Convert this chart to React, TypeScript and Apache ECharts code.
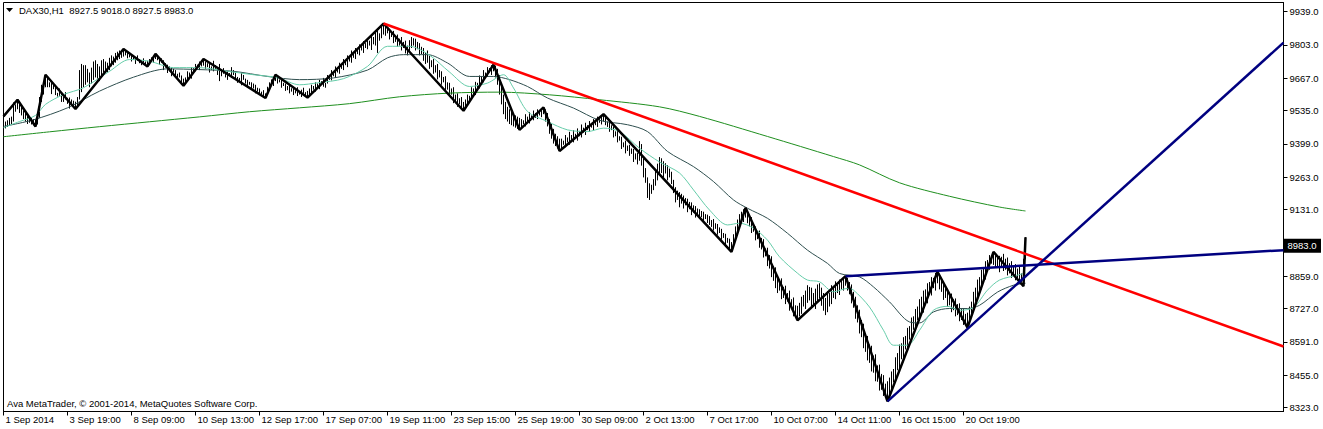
import React, { useEffect, useRef } from "react";
import * as echarts from "echarts";

// ---------- data ----------
const symbolName = "DAX30,H1";
const lastBarOHLC = [8927.5, 9018.0, 8927.5, 8983.0];
const copyrightText = "Ava MetaTrader, \u00A9 2001-2014, MetaQuotes Software Corp.";

const timeLabels = [
  "1 Sep 2014", "3 Sep 19:00", "8 Sep 09:00", "10 Sep 13:00", "12 Sep 17:00",
  "17 Sep 07:00", "19 Sep 11:00", "23 Sep 15:00", "25 Sep 19:00", "30 Sep 09:00",
  "2 Oct 13:00", "7 Oct 17:00", "10 Oct 07:00", "14 Oct 11:00", "16 Oct 15:00",
  "20 Oct 19:00",
];
const barsPerLabel = 32;
const totalSlots = 641; // bars plus empty space to the right edge

const priceTicks = [8323, 8455, 8591, 8727, 8859, 9131, 9263, 9399, 9535, 9667, 9803, 9939];
const priceMin = 8306.6;
const priceMax = 9975.8;

// hourly bars, low / high
const barLow = [
  9470, 9462, 9468, 9475, 9480, 9490, 9530, 9540,
  9525, 9515, 9500, 9490, 9480, 9485, 9478, 9475, 9470,
  9478, 9505, 9570, 9600, 9630,
  9630, 9630, 9602, 9622, 9598, 9592, 9595, 9570, 9570, 9580, 9562, 9543, 9560, 9545, 9541,
  9550, 9580, 9610, 9630, 9640, 9650, 9630, 9645, 9660, 9670, 9665, 9655, 9670, 9690, 9700, 9690, 9700, 9715, 9720, 9730, 9740, 9745, 9750, 9755,
  9760, 9748, 9752, 9735, 9742, 9725, 9738, 9728, 9720, 9730, 9722, 9715,
  9725, 9735, 9730, 9745,
  9740, 9722, 9730, 9700, 9710, 9688, 9695, 9675, 9690, 9668, 9660, 9670, 9650, 9636,
  9650, 9660, 9675, 9665, 9690, 9695, 9710, 9700, 9715, 9718,
  9705, 9712, 9690, 9700, 9695, 9705, 9680, 9655, 9675, 9685, 9670, 9660, 9675, 9668, 9680, 9662, 9648, 9655, 9638, 9660, 9645, 9630, 9640, 9620, 9625, 9605, 9612, 9598, 9600, 9590, 9586,
  9600, 9618, 9640, 9635, 9655,
  9645, 9650, 9628, 9635, 9615, 9618, 9605, 9612, 9598, 9605, 9594, 9600, 9590, 9602, 9595, 9588,
  9598, 9605, 9620, 9612, 9630, 9622, 9640, 9632, 9628, 9645, 9660, 9658, 9675, 9668, 9690, 9685, 9705, 9700, 9720, 9712, 9735, 9730, 9750, 9745, 9765, 9760, 9780, 9770, 9790, 9785, 9800, 9782, 9805, 9800, 9770, 9820, 9830, 9845,
  9840, 9850, 9825, 9835, 9810, 9815, 9795, 9800, 9780, 9790, 9768, 9760, 9775, 9790, 9800, 9780, 9785, 9760, 9765, 9738, 9725, 9730, 9705, 9712, 9685, 9690, 9662, 9670, 9640, 9650, 9612, 9620, 9590, 9600, 9565, 9570, 9550, 9560, 9540, 9534,
  9545, 9560, 9570, 9580, 9600, 9598, 9620, 9625, 9648, 9650, 9668, 9672, 9690, 9680, 9695,
  9670, 9640, 9600, 9560, 9520, 9500, 9490, 9480, 9475, 9470, 9465, 9460, 9456,
  9465, 9480, 9470, 9490, 9482, 9498, 9495, 9505, 9500, 9515, 9508, 9520,
  9490, 9470, 9440, 9420, 9400, 9390, 9380, 9370,
  9378, 9395, 9385, 9405, 9395, 9415, 9405, 9420, 9412, 9430, 9425, 9445, 9435, 9455, 9448, 9465, 9455, 9475, 9468, 9485, 9478, 9490,
  9475, 9468, 9448, 9455, 9425, 9430, 9405, 9412, 9378, 9385, 9360, 9370, 9350, 9358, 9325, 9335, 9315, 9330, 9310, 9262,
  9240, 9178, 9170, 9195, 9210, 9228, 9250, 9272, 9280, 9262, 9278, 9250, 9262, 9235, 9198, 9160, 9170, 9140, 9155, 9135,
  9148, 9120, 9132, 9108, 9118, 9098, 9110, 9092, 9100, 9082, 9092, 9076, 9068, 9060, 9045, 9052, 9028, 9035, 9008, 9015,
  8988, 8995, 8968, 8958,
  8975, 9000, 9032, 9058, 9085, 9080, 9098,
  9075, 9062, 9035, 9040, 9005, 9010, 8975, 8968, 8935, 8940, 8900, 8890, 8855, 8840, 8810, 8790, 8800, 8765, 8770, 8745, 8755, 8718, 8725, 8695, 8700, 8679,
  8695, 8705, 8735, 8725, 8750, 8760, 8735, 8742, 8725, 8752, 8768, 8738, 8718, 8700, 8712, 8735, 8745, 8770, 8765, 8790, 8782, 8805, 8800, 8820,
  8800, 8785, 8748, 8730, 8685, 8670, 8625, 8610, 8565, 8550, 8515, 8505, 8470, 8465, 8430, 8428, 8392, 8395, 8370, 8365, 8348,
  8372, 8385, 8425, 8432, 8475, 8480, 8520, 8525, 8560, 8565, 8600, 8602, 8640, 8642, 8680, 8682, 8715, 8710, 8750, 8748, 8785, 8780, 8810, 8800, 8830,
  8805, 8795, 8762, 8770, 8735, 8740, 8712, 8720, 8695, 8700, 8675, 8680, 8660, 8665, 8649,
  8668, 8700, 8712, 8755, 8765, 8800, 8805, 8840, 8845, 8880, 8885, 8910, 8905,
  8895, 8900, 8875, 8895, 8880, 8885, 8862, 8870, 8852, 8862, 8842, 8850, 8828, 8835, 8818, 8927.5,
];
const barHigh = [
  9515, 9490, 9495, 9505, 9510, 9568, 9560, 9579,
  9565, 9550, 9535, 9525, 9515, 9510, 9505, 9500, 9498,
  9520, 9590, 9640, 9655, 9681,
  9670, 9650, 9647, 9647, 9633, 9607, 9625, 9610, 9590, 9610, 9587, 9588, 9580, 9575, 9571,
  9590, 9700, 9725, 9720, 9720, 9705, 9690, 9710, 9735, 9740, 9725, 9715, 9740, 9745, 9735, 9730, 9750, 9760, 9755, 9770, 9775, 9780, 9778, 9786,
  9782, 9770, 9768, 9762, 9755, 9752, 9760, 9745, 9740, 9748, 9735, 9738,
  9745, 9752, 9758, 9766,
  9760, 9750, 9748, 9740, 9728, 9722, 9715, 9712, 9705, 9700, 9685, 9690, 9678, 9665,
  9670, 9695, 9690, 9712, 9708, 9725, 9722, 9735, 9730, 9745,
  9735, 9728, 9725, 9715, 9738, 9720, 9712, 9725, 9700, 9708, 9690, 9695, 9688, 9712, 9700, 9690, 9672, 9668, 9690, 9680, 9665, 9660, 9652, 9650, 9645, 9640, 9628, 9625, 9612, 9618, 9605,
  9632, 9650, 9662, 9670, 9681,
  9672, 9662, 9660, 9648, 9645, 9635, 9640, 9626, 9625, 9618, 9630, 9612, 9620, 9628, 9610, 9615,
  9625, 9640, 9635, 9650, 9645, 9660, 9655, 9668, 9648, 9680, 9675, 9700, 9695, 9715, 9712, 9730, 9725, 9745, 9740, 9760, 9755, 9780, 9770, 9790, 9785, 9805, 9800, 9818, 9810, 9830, 9820, 9840, 9835, 9860, 9865, 9850, 9880, 9890,
  9885, 9870, 9868, 9855, 9860, 9840, 9845, 9828, 9835, 9815, 9820, 9800, 9822, 9835, 9830, 9828, 9815, 9810, 9795, 9790, 9770, 9780, 9758, 9740, 9745, 9720, 9725, 9700, 9695, 9672, 9675, 9650, 9648, 9625, 9630, 9600, 9605, 9585, 9590, 9570,
  9580, 9600, 9595, 9630, 9625, 9652, 9648, 9678, 9675, 9700, 9690, 9712, 9708, 9720, 9722,
  9718, 9705, 9680, 9640, 9600, 9570, 9550, 9540, 9530, 9520, 9515, 9510, 9505,
  9500, 9495, 9520, 9510, 9528, 9515, 9535, 9525, 9540, 9532, 9545, 9548,
  9540, 9525, 9500, 9480, 9460, 9440, 9430, 9420,
  9420, 9412, 9435, 9425, 9448, 9435, 9455, 9440, 9462, 9452, 9478, 9465, 9485, 9475, 9492, 9482, 9500, 9495, 9510, 9500, 9515, 9520,
  9512, 9490, 9500, 9475, 9470, 9450, 9452, 9430, 9428, 9405, 9412, 9392, 9395, 9380, 9378, 9360, 9362, 9410, 9398, 9340,
  9300, 9262, 9238, 9232, 9255, 9290, 9318, 9345, 9340, 9328, 9320, 9312, 9298, 9285, 9252, 9222, 9208, 9202, 9195, 9188,
  9178, 9175, 9162, 9160, 9148, 9145, 9135, 9132, 9125, 9122, 9112, 9110, 9104, 9088, 9092, 9075, 9072, 9058, 9052, 9035,
  9032, 9015, 9012, 8998,
  9030, 9062, 9090, 9112, 9122, 9132, 9138,
  9130, 9105, 9100, 9070, 9062, 9040, 9045, 9015, 9010, 8972, 8975, 8945, 8940, 8900, 8895, 8860, 8845, 8850, 8815, 8820, 8790, 8800, 8765, 8772, 8740, 8738,
  8750, 8775, 8782, 8800, 8822, 8815, 8812, 8790, 8808, 8825, 8830, 8812, 8790, 8770, 8798, 8790, 8822, 8812, 8838, 8830, 8845, 8840, 8855, 8859,
  8852, 8835, 8825, 8795, 8775, 8740, 8722, 8680, 8665, 8625, 8615, 8580, 8575, 8535, 8540, 8495, 8498, 8460, 8455, 8420, 8430,
  8445, 8470, 8480, 8528, 8545, 8580, 8585, 8610, 8615, 8648, 8655, 8690, 8695, 8725, 8735, 8765, 8775, 8800, 8805, 8830, 8835, 8855, 8852, 8872, 8877,
  8868, 8840, 8835, 8810, 8808, 8785, 8788, 8765, 8768, 8745, 8748, 8725, 8728, 8705, 8710,
  8735, 8755, 8795, 8812, 8845, 8855, 8885, 8895, 8920, 8925, 8945, 8940, 8958,
  8952, 8935, 8942, 8938, 8950, 8930, 8935, 8912, 8920, 8900, 8908, 8890, 8898, 8870, 8930, 9018,
];

// zigzag pivots [bar, price]
const zigzag = [
  [0, 9511], [7, 9579], [16, 9470], [21, 9681], [36, 9541], [60, 9786], [72, 9715],
  [76, 9766], [90, 9636], [100, 9745], [131, 9586], [136, 9681], [152, 9588], [190, 9890],
  [230, 9534], [245, 9722], [258, 9456], [270, 9548], [278, 9370], [300, 9520], [364, 8958],
  [371, 9138], [397, 8679], [421, 8859], [442, 8348], [467, 8877], [482, 8649], [495, 8958],
  [510, 8818], [511, 9018],
];

// moving averages, [bar, price]
const maFast = [
  [0, 9465], [8, 9490], [16, 9515], [21, 9560], [30, 9600], [40, 9628], [53, 9695], [63, 9743],
  [73, 9736], [85, 9710], [98, 9710], [112, 9695], [125, 9681], [137, 9669], [148, 9640],
  [157, 9648], [170, 9665], [182, 9715], [192, 9797], [203, 9797], [213, 9761], [223, 9692],
  [233, 9633], [242, 9647], [250, 9681], [255, 9627], [262, 9531], [272, 9490], [282, 9456],
  [292, 9449], [300, 9463], [308, 9449], [318, 9381], [328, 9325], [338, 9280], [345, 9211],
  [353, 9129], [362, 9068], [368, 9075], [375, 9055], [382, 9006], [388, 8938], [397, 8871],
  [402, 8843], [408, 8836], [415, 8795], [422, 8809], [425, 8802], [433, 8733], [440, 8638],
  [445, 8577], [452, 8577], [458, 8638], [465, 8720], [472, 8736], [478, 8720], [485, 8731],
  [492, 8802], [498, 8843], [507, 8863], [511, 8872],
];
const maMid = [
  [0, 9470], [15, 9497], [32, 9546], [48, 9614], [65, 9671], [82, 9705], [98, 9702], [115, 9695],
  [132, 9674], [148, 9661], [165, 9668], [182, 9700], [192, 9750], [200, 9763], [212, 9763],
  [222, 9729], [233, 9674], [245, 9674], [253, 9661], [262, 9633], [272, 9586], [285, 9545],
  [298, 9495], [312, 9477], [322, 9449], [332, 9368], [345, 9306], [355, 9245], [365, 9170],
  [372, 9136], [382, 9095], [392, 9034], [402, 8965], [412, 8911], [418, 8870], [428, 8856],
  [435, 8815], [443, 8754], [453, 8672], [458, 8668], [465, 8713], [473, 8727], [482, 8727],
  [488, 8740], [497, 8794], [505, 8822], [511, 8830],
];
const maLong = [
  [0, 9428], [23, 9448], [48, 9469], [73, 9489], [98, 9509], [123, 9530], [148, 9546],
  [173, 9563], [198, 9591], [223, 9606], [248, 9610], [273, 9599], [298, 9579], [328, 9550],
  [348, 9511], [382, 9429], [415, 9347], [428, 9313], [448, 9240], [473, 9185], [498, 9141],
  [511, 9125],
];

// trend lines [bar, price]
const resistanceLine = [[190, 9890], [640, 8572]];
const supportLine = [[442, 8348], [640, 9812]];
const necklineLine = [[421, 8859], [640, 8965]];

// ---------- chart ----------
const FONT = "Tahoma, 'Liberation Sans', Arial, sans-serif";

export default function App() {
  const ref = useRef<HTMLDivElement>(null);

  useEffect(() => {
    if (!ref.current) return;
    const chart = echarts.init(ref.current, undefined, { renderer: "svg" });

    const categories = Array.from({ length: totalSlots }, (_, i) => String(i));
    const isLabelSlot = (i: number) =>
      i % barsPerLabel === 0 && i / barsPerLabel < timeLabels.length;

    const bars = barLow.map((l, i) => [i, l, barHigh[i]]);

    const lineSeries = (data: number[][], color: string, width: number, z: number, smooth: boolean | number) => ({
      type: "line",
      data,
      symbol: "none",
      showSymbol: false,
      silent: true,
      smooth,
      z,
      lineStyle: { color, width },
    });

    const lastBar = lastBarOHLC;
    const titleText = `${symbolName}  ${lastBar.map((v) => v.toFixed(1)).join(" ")}`;

    chart.setOption({
      animation: false,
      backgroundColor: "#ffffff",
      grid: {
        left: 3.5,
        right: 39.5,
        top: 2.5,
        bottom: 17.5,
        show: true,
        borderColor: "#000",
        borderWidth: 1,
        backgroundColor: "#fff",
        containLabel: false,
        outerBoundsMode: "none",
      },
      xAxis: {
        type: "category",
        data: categories,
        boundaryGap: false,
        axisLine: { show: true, onZero: false, lineStyle: { color: "#000", width: 1 } },
        axisTick: {
          show: true,
          length: 4,
          interval: (i: number) => isLabelSlot(i),
          lineStyle: { color: "#000" },
        },
        axisLabel: {
          interval: (i: number) => isLabelSlot(i),
          formatter: (v: string) => {
            const i = Number(v);
            return isLabelSlot(i) ? timeLabels[i / barsPerLabel] : "";
          },
          align: "left",
          padding: [0, 0, 0, 2],
          margin: 3,
          color: "#000",
          fontSize: 9.5,
          fontFamily: FONT,
        },
        splitLine: { show: false },
      },
      yAxis: {
        type: "value",
        position: "right",
        min: priceMin,
        max: priceMax,
        splitLine: { show: false },
        axisLine: { show: true, lineStyle: { color: "#000", width: 1 } },
        axisTick: { show: true, length: 4, lineStyle: { color: "#000" }, customValues: priceTicks },
        axisLabel: {
          customValues: priceTicks,
          formatter: (v: number) => v.toFixed(1),
          color: "#000",
          fontSize: 9.5,
          fontFamily: FONT,
          margin: 6,
        },
      },
      series: [
        {
          type: "custom",
          data: bars,
          encode: { x: 0, y: [1, 2] },
          silent: true,
          z: 1,
          renderItem: (_params: any, api: any) => {
            const p1 = api.coord([api.value(0), api.value(1)]);
            const p2 = api.coord([api.value(0), api.value(2)]);
            return {
              type: "line",
              shape: { x1: p1[0], y1: p1[1], x2: p2[0], y2: p2[1] },
              style: { stroke: "#000", lineWidth: 1 },
            };
          },
        },
        lineSeries(maLong, "#1f8f1f", 1, 2, 0.3),
        lineSeries(maMid, "#2F4F4F", 1, 3, 0.3),
        lineSeries(maFast, "#66CDAA", 1, 4, 0.3),
        lineSeries(zigzag, "#000", 2.5, 5, false),
        lineSeries(resistanceLine, "#ff0000", 2.5, 6, false),
        lineSeries(supportLine, "#000080", 2.5, 7, false),
        lineSeries(necklineLine, "#000080", 2.5, 7, false),
      ],
    });

    // price tag on the right scale, placed through the chart's own y scale
    const tagY = chart.convertToPixel({ yAxisIndex: 0 }, lastBar[3]) as number;
    const gridRight = 1323 - 39.5;

    chart.setOption({
      graphic: [
        {
          type: "polygon",
          shape: { points: [[6, 8], [13, 8], [9.5, 12]] },
          style: { fill: "#000" },
          z: 100,
        },
        {
          type: "text",
          x: 19,
          y: 10.5,
          style: {
            text: titleText,
            fill: "#000",
            font: `9.5px ${FONT}`,
            textVerticalAlign: "middle",
          },
          z: 100,
        },
        {
          type: "text",
          x: 7,
          y: 403,
          style: {
            text: copyrightText,
            fill: "#000",
            font: `9.5px ${FONT}`,
            textVerticalAlign: "middle",
          },
          z: 100,
        },
        {
          type: "rect",
          shape: { x: gridRight + 0.5, y: tagY - 7, width: 37, height: 14 },
          style: { fill: "#000" },
          z: 100,
        },
        {
          type: "text",
          x: gridRight + 4,
          y: tagY,
          style: {
            text: lastBar[3].toFixed(1),
            fill: "#fff",
            font: `9.5px ${FONT}`,
            textVerticalAlign: "middle",
          },
          z: 101,
        },
      ],
    });

    return () => chart.dispose();
  }, []);

  return (
    <div
      ref={ref}
      style={{ position: "fixed", left: 0, top: 0, width: 1323, height: 429, background: "#fff" }}
    />
  );
}
